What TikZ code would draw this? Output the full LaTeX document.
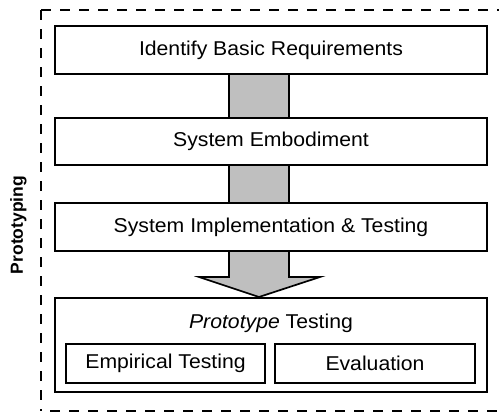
\documentclass[tikz,border=0pt]{standalone}
\usepackage{fontspec}
\setmainfont{Liberation Sans}[FakeStretch=1.06]
\newfontfamily\labfont{Liberation Sans}
\usetikzlibrary{backgrounds,calc}
\begin{document}
\begin{tikzpicture}[x=1pt,y=-1pt,
  box/.style={draw, line width=2pt, fill=white, inner sep=0pt, font=\fontsize{20}{23}\selectfont},
  subbox/.style={draw, line width=1.6pt, fill=white, inner sep=0pt, font=\fontsize{20}{23}\selectfont},
  frame/.style={line width=2pt, dash pattern=on 10pt off 9pt},
  flow/.style={fill=black!25, draw=black, line width=1.7pt, line join=miter}]
\useasboundingbox (0,0) rectangle (499,414);
\node[box, minimum width=432pt, minimum height=48pt] (b1) at (271,50) {Identify Basic Requirements};
\node[box, minimum width=432pt, minimum height=47pt] (b2) at (271,141.5) {System Embodiment};
\node[box, minimum width=432pt, minimum height=48pt] (b3) at (271,227) {System Implementation \& Testing};
\node[box, minimum width=432pt, minimum height=94pt] (b4) at (271,345) {};
\node[font=\fontsize{20}{23}\selectfont] (t4) at (271,323) {\textit{Prototype} Testing};
\node[subbox, minimum width=199pt, minimum height=39pt] (e1) at (165.5,363.5) {Empirical Testing};
\node[subbox, minimum width=200pt, minimum height=39pt] (e2) at (375,363.5) {Evaluation};
\node[rotate=90, font=\labfont\bfseries\fontsize{17.5}{20}\selectfont] (lab) at (18.5,225) {Prototyping};
\begin{scope}[on background layer]
  \fill[black!25] ($(b1.south)+(-42,0)$) rectangle ($(b2.north)+(18,0)$);
  \draw[line width=1.7pt] ($(b1.south)+(-42,0)$) -- ($(b2.north)+(-42,0)$);
  \draw[line width=1.7pt] ($(b1.south)+(18,0)$) -- ($(b2.north)+(18,0)$);
  \fill[black!25] ($(b2.south)+(-42,0)$) rectangle ($(b3.north)+(18,0)$);
  \draw[line width=1.7pt] ($(b2.south)+(-42,0)$) -- ($(b3.north)+(-42,0)$);
  \draw[line width=1.7pt] ($(b2.south)+(18,0)$) -- ($(b3.north)+(18,0)$);
  \draw[flow] ($(b3.south)+(-42,0)$) -- ($(b3.south)+(-42,25)$) -- ($(b3.south)+(-72,25)$)
     -- ($(b4.north)+(-12,0)$) -- ($(b3.south)+(49,25)$) -- ($(b3.south)+(18,25)$) -- ($(b3.south)+(18,0)$);
\end{scope}
\coordinate (fa) at (41,10.5);
\coordinate (fb) at (499,10.5);
\coordinate (fc) at (41,411);
\coordinate (fd) at (499,411);
\draw[frame] (fa) -- (fb);
\draw[frame] (fa) -- (fc);
\draw[frame, dash phase=10pt] (fc) -- (fd);
\end{tikzpicture}
\end{document}
